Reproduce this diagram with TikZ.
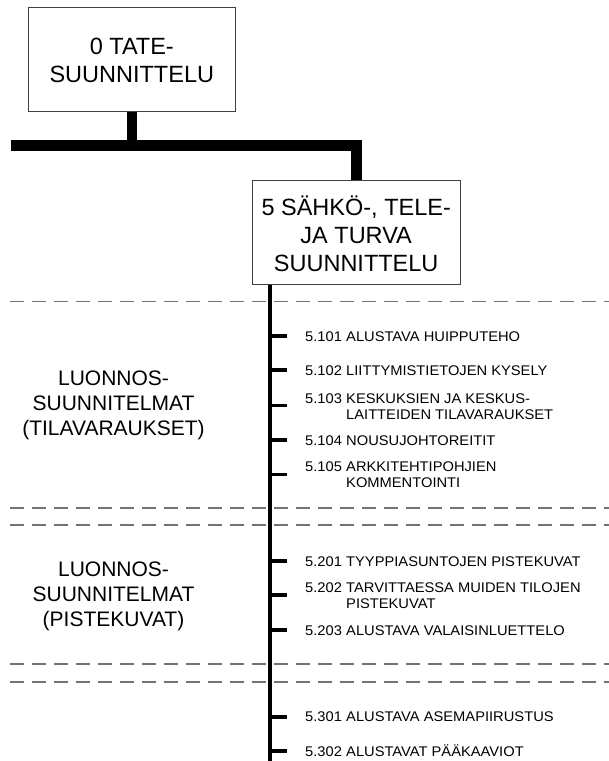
\documentclass[tikz,border=0pt]{standalone}
\usepackage{fontspec}
\setmainfont{Liberation Sans}
\newfontfamily\itemfont{Liberation Sans}[FakeStretch=1.05]
\begin{document}
\begin{tikzpicture}[x=1pt,y=-1pt,
  boxst/.style={draw=black!75, line width=1pt, inner sep=0pt},
  bigtxt/.style={font=\fontsize{23.5}{28}\selectfont, anchor=base, inner sep=0pt},
  sectxt/.style={font=\fontsize{21}{25}\selectfont, anchor=base, inner sep=0pt},
  itemtxt/.style={font=\itemfont\fontsize{14}{16}\selectfont, anchor=base west, inner sep=0pt},
  sepline/.style={draw=black!55, line width=1.1pt, dash pattern=on 14pt off 8pt},
  barst/.style={line width=11pt},
  stemst/.style={line width=10pt},
  spinest/.style={line width=4pt},
  tickst/.style={line width=3.5pt},
]
\useasboundingbox (0,0) rectangle (609,761);

% separators
\foreach \n/\y in {1/301.7,2/508,3/525,4/664,5/682}{
  \coordinate (d\n L) at (10,\y);
  \coordinate (d\n R) at (609,\y);
  \draw[sepline] (d\n L) -- (d\n R);
}

% boxes
\node[boxst, minimum width=207pt, minimum height=103.7pt] (b1) at (131.8,59.2) {};
\node[bigtxt] (b1a) at (131.8,54) {0 TATE-};
\node[bigtxt] (b1b) at (131.8,82) {SUUNNITTELU};

\node[boxst, minimum width=207.7pt, minimum height=104pt] (b2) at (356.2,232) {};
\node[bigtxt] (b2a) at (356.2,215.5) {5 SÄHKÖ-, TELE-};
\node[bigtxt] (b2b) at (356.2,243.5) {JA TURVA};
\node[bigtxt] (b2c) at (356.2,271.5) {SUUNNITTELU};

% thick connectors
\coordinate (barL) at (10.7,145.5);
\draw[stemst] (b1.south) -- (b1.south |- barL);
\draw[barst] (barL) -- (b2.north |- barL) -- (b2.north);

% spine
\coordinate (spine) at (269.7,761);
\draw[spinest] (spine |- b2.south) -- (spine);

% section labels
\node[sectxt] (s1a) at (113.5,385) {LUONNOS-};
\node[sectxt] (s1b) at (113.5,410) {SUUNNITELMAT};
\node[sectxt] (s1c) at (113.5,435) {(TILAVARAUKSET)};
\node[sectxt] (s2a) at (113.5,576.5) {LUONNOS-};
\node[sectxt] (s2b) at (113.5,601.5) {SUUNNITELMAT};
\node[sectxt] (s2c) at (113.5,626.5) {(PISTEKUVAT)};

% ticks
\foreach \n/\y in {101/336,102/370,103/405.5,104/440,105/474.5,201/561,202/595,203/630,301/717,302/751}{
  \coordinate (t\n) at (287,\y);
  \draw[tickst] (spine |- t\n) -- (t\n);
}

% items
\node[itemtxt] (n101) at (305,341.7) {5.101};
\node[itemtxt] (l101) at (346,341.7) {ALUSTAVA HUIPPUTEHO};
\node[itemtxt] (n102) at (305,375.2) {5.102};
\node[itemtxt] (l102) at (346,375.2) {LIITTYMISTIETOJEN KYSELY};
\node[itemtxt] (n103) at (305,403.3) {5.103};
\node[itemtxt] (l103a) at (346,403.3) {KESKUKSIEN JA KESKUS-};
\node[itemtxt] (l103b) at (346,419.3) {LAITTEIDEN TILAVARAUKSET};
\node[itemtxt] (n104) at (305,445) {5.104};
\node[itemtxt] (l104) at (346,445) {NOUSUJOHTOREITIT};
\node[itemtxt] (n105) at (305,471.3) {5.105};
\node[itemtxt] (l105a) at (346,471.3) {ARKKITEHTIPOHJIEN};
\node[itemtxt] (l105b) at (346,487.3) {KOMMENTOINTI};

\node[itemtxt] (n201) at (305,566) {5.201};
\node[itemtxt] (l201) at (346,566) {TYYPPIASUNTOJEN PISTEKUVAT};
\node[itemtxt] (n202) at (305,592.5) {5.202};
\node[itemtxt] (l202a) at (346,592.5) {TARVITTAESSA MUIDEN TILOJEN};
\node[itemtxt] (l202b) at (346,608.5) {PISTEKUVAT};
\node[itemtxt] (n203) at (305,635) {5.203};
\node[itemtxt] (l203) at (346,635) {ALUSTAVA VALAISINLUETTELO};

\node[itemtxt] (n301) at (305,721.5) {5.301};
\node[itemtxt] (l301) at (346,721.5) {ALUSTAVA ASEMAPIIRUSTUS};
\node[itemtxt] (n302) at (305,756) {5.302};
\node[itemtxt] (l302) at (346,756) {ALUSTAVAT PÄÄKAAVIOT};
\end{tikzpicture}
\end{document}
